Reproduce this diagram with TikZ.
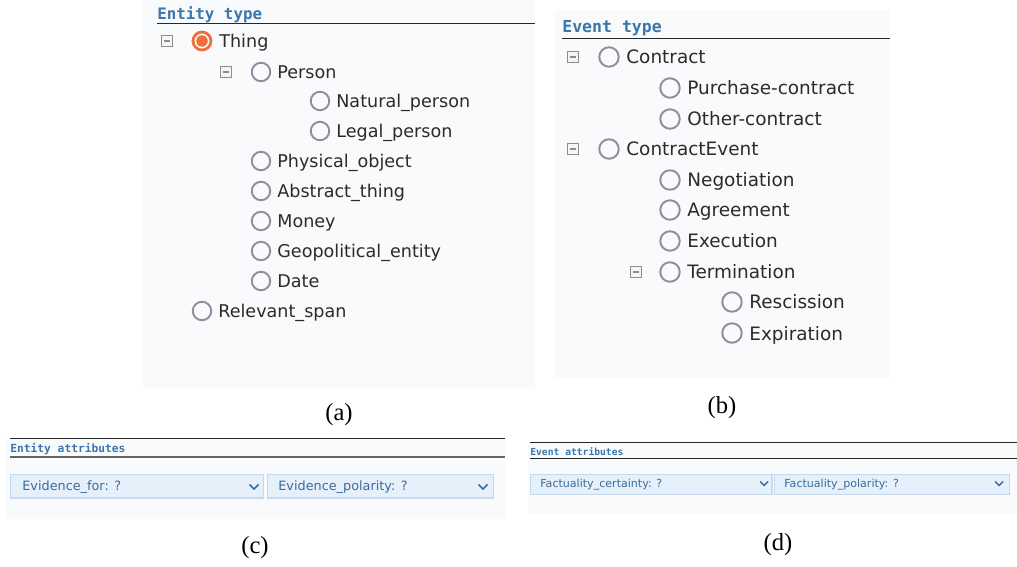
\documentclass[tikz,border=0pt]{standalone}
\usepackage{fontspec}
\setmainfont{DejaVu Sans}
\newfontfamily\titlefont{DejaVu Sans Mono}
\newfontfamily\capfont{Liberation Serif}
\usepackage{xcolor}
\usepackage{tikz}
\usetikzlibrary{positioning}

\definecolor{panelbg}{HTML}{F9FAFB}
\definecolor{titleblue}{HTML}{3B76AC}
\definecolor{radiogray}{HTML}{8E8E9E}
\definecolor{radioorange}{HTML}{EF6F3C}
\definecolor{boxgray}{HTML}{8C8C8C}
\definecolor{treetext}{HTML}{2B2B2B}
\definecolor{dropfill}{HTML}{E6F0FA}
\definecolor{dropline}{HTML}{C4D9EE}
\definecolor{droptext}{HTML}{3B6C9B}

\begin{document}
\begin{tikzpicture}[x=0.02cm, y=-0.02cm,
  radio/.style={circle, draw=radiogray, line width=1.1pt, minimum size=0.37cm, inner sep=0pt},
  chosen/.style={circle, draw=radioorange, line width=1.6pt, minimum size=0.36cm, inner sep=0pt,
    path picture={\fill[radioorange] (path picture bounding box.center) circle (0.115cm);}},
  minusbox/.style={draw=boxgray, fill=black!4, line width=0.9pt, minimum size=0.22cm, inner sep=0pt,
    path picture={\draw[boxgray, line width=0.9pt] ([xshift=-0.065cm]path picture bounding box.center)
      -- ([xshift=0.065cm]path picture bounding box.center);}},
  itema/.style={anchor=base west, inner sep=0pt, text=treetext, font=\fontsize{10}{12}\selectfont},
  itemb/.style={itema, font=\fontsize{10.5}{12}\selectfont},
  paneltitle/.style={anchor=base west, inner sep=0pt, text=titleblue, font=\titlefont\bfseries},
  dropbox/.style={draw=dropline, fill=dropfill, line width=0.6pt, anchor=north west, inner sep=0pt},
  droplabel/.style={anchor=base west, inner sep=0pt, text=droptext},
  chevron/.style={droptext, line width=0.9pt},
  caption/.style={inner sep=0pt, font=\capfont\fontsize{14}{16}\selectfont}]
\useasboundingbox (0,0) rectangle (1017,567);

% (a) entity types
\fill[panelbg] (143,0) rectangle (535,388);
\node[paneltitle, font=\titlefont\bfseries\fontsize{9}{10}\selectfont] (enttitle) at (157,20) {Entity type};
\draw[black!85, line width=0.6pt] (157,23.5) -- (535,23.5);
\node[minusbox] (thingbox) at (167,41) {};
\node[chosen] (r-thing) at (202,41) {};
\node[itema] (t-thing) at (219,47.7) {Thing};
\node[minusbox] (personbox) at (226,72) {};
\foreach \y/\x/\txt [count=\i] in {72/261/Person, 101/320/Natural\_person, 131/320/Legal\_person,
    161/261/Physical\_object, 191/261/Abstract\_thing, 221/261/Money,
    251/261/Geopolitical\_entity, 281/261/Date, 311/202/Relevant\_span}{
  \node[radio] (ra-\i) at (\x,\y) {};
  \node[itema] (ta-\i) at (\x+16,\y+6.7) {\txt};
}
\node[caption] (capa) at (339,415) {(a)};

% (b) event types
\fill[panelbg] (555,10) rectangle (890,378);
\node[paneltitle, font=\titlefont\bfseries\fontsize{9.4}{10}\selectfont] (evtitle) at (562,33) {Event type};
\draw[black!85, line width=0.6pt] (562,38.5) -- (890,38.5);
\node[minusbox] (contractbox) at (573,57) {};
\node[minusbox] (cevbox) at (573,149) {};
\node[minusbox] (termbox) at (636,272) {};
\foreach \y/\x/\txt [count=\i] in {57/609/Contract, 88/670/Purchase-contract, 119/670/Other-contract,
    149/609/ContractEvent, 180/670/Negotiation, 210/670/Agreement, 241/670/Execution,
    272/670/Termination, 302/732/Rescission, 333/732/Expiration}{
  \node[radio, minimum size=0.39cm] (rb-\i) at (\x,\y) {};
  \node[itemb] (tb-\i) at (\x+17,\y+7) {\txt};
}
\node[caption] (capb) at (722,408) {(b)};

% (c) entity attributes
\fill[panelbg] (5,438) rectangle (505,519);
\draw[black!85, line width=0.6pt] (10,438.5) -- (505,438.5);
\node[paneltitle, font=\titlefont\bfseries\fontsize{6.4}{7}\selectfont] (entattr) at (10,452.5) {Entity attributes};
\draw[black!60, line width=1.1pt] (10,457) -- (505,457);
\node[dropbox, minimum width=5.06cm, minimum height=0.47cm] (evfor) at (10,474) {};
\node[dropbox, minimum width=4.52cm, minimum height=0.47cm] (evpol) at (267,474) {};
\node[droplabel, font=\fontsize{7.3}{8}\selectfont] (evfortxt) at (22,490.5) {Evidence\_for: ?};
\node[droplabel, font=\fontsize{7.3}{8}\selectfont] (evpoltxt) at (278,490.5) {Evidence\_polarity: ?};
\draw[chevron] (249.5,484.5) -- (254,489) -- (258.5,484.5);
\draw[chevron] (478.5,484.5) -- (483,489) -- (487.5,484.5);
\node[caption] (capc) at (255,548) {(c)};

% (d) event attributes
\fill[panelbg] (528,441) rectangle (1017,514);
\draw[black!85, line width=0.6pt] (530,442.5) -- (1017,442.5);
\node[paneltitle, font=\titlefont\bfseries\fontsize{5.5}{6}\selectfont] (evattr) at (530,455) {Event attributes};
\draw[black!85, line width=0.6pt] (530,458.5) -- (1017,458.5);
\node[dropbox, minimum width=4.83cm, minimum height=0.41cm] (factcert) at (530,473.5) {};
\node[dropbox, minimum width=4.7cm, minimum height=0.41cm] (factpol) at (774,473.5) {};
\node[droplabel, font=\fontsize{6.3}{7}\selectfont] (factcerttxt) at (540,487.5) {Factuality\_certainty: ?};
\node[droplabel, font=\fontsize{6.3}{7}\selectfont] (factpoltxt) at (784,487.5) {Factuality\_polarity: ?};
\draw[chevron, line width=0.8pt] (760,481.5) -- (764,485.5) -- (768,481.5);
\draw[chevron, line width=0.8pt] (995,481.5) -- (999,485.5) -- (1003,481.5);
\node[caption] (capd) at (778,545) {(d)};
\end{tikzpicture}
\end{document}
